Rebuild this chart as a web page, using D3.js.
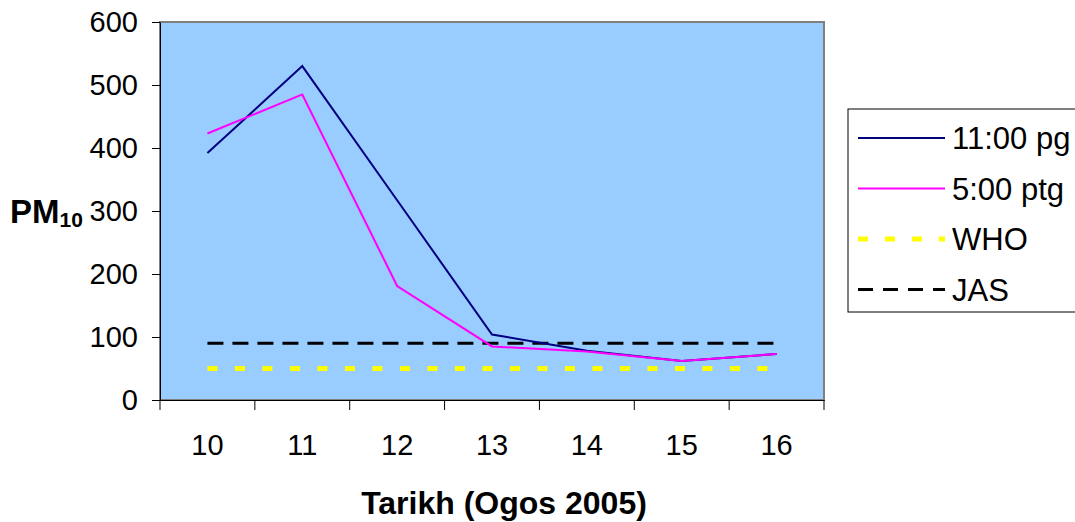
<!DOCTYPE html>
<html><head><meta charset="utf-8">
<script src="https://cdn.jsdelivr.net/npm/d3@7"></script>
<style>body{margin:0;background:#fff;} svg{display:block;} text{font-family:"Liberation Sans",Arial,sans-serif;fill:#000;}</style>
</head><body><svg id="c" width="1075" height="522"></svg>
<script>
const categories = ["10","11","12","13","14","15","16"];
const series1 = [392, 530, 317, 104, 78, 62, 73];   // 11:00 pg
const series2 = [423, 485, 181, 85, 77, 62, 73];    // 5:00 ptg
const whoValue = [50, 50, 50, 50, 50, 50, 50];
const jasValue = [90, 90, 90, 90, 90, 90, 90];
const yTicks = [0, 100, 200, 300, 400, 500, 600];
const seriesNames = ["11:00 pg", "5:00 ptg", "WHO", "JAS"];

const svg = d3.select("#c");
const L = 160, R = 824, T = 22, B = 400;
const x = d3.scaleBand().domain(categories).range([L, R]).padding(0);
const y = d3.scaleLinear().domain([0, 600]).range([B, T]);
const cx = d => x(d) + x.bandwidth() / 2;
const FONT = "Liberation Sans, Arial, sans-serif";

svg.append("rect").attr("x", L).attr("y", T).attr("width", R - L).attr("height", B - T)
  .attr("fill", "#99CCFF").attr("stroke", "#808080").attr("stroke-width", 2);

const styles = [
  {color: "#000080", w: 2, dash: null},
  {color: "#FF00FF", w: 2, dash: null},
  {color: "#FFFF00", w: 5, dash: "10,17.5"},
  {color: "#000000", w: 3, dash: "16,9"}
];
const datasets = [series1, series2, whoValue, jasValue];
const line = d3.line().x((d, i) => cx(categories[i])).y(d => y(d));
[2, 3, 0, 1].forEach(k => {
  svg.append("path").datum(datasets[k]).attr("d", line).attr("fill", "none")
    .attr("stroke", styles[k].color).attr("stroke-width", styles[k].w)
    .attr("stroke-dasharray", styles[k].dash).attr("stroke-linejoin", "miter");
});

// axes
const yAxis = d3.axisLeft(y).tickValues(yTicks).tickSize(8).tickSizeOuter(0).tickPadding(14);
const gy = svg.append("g").attr("transform", `translate(${L},0)`).call(yAxis);
gy.select(".domain").attr("stroke", "#000").attr("stroke-width", 1);
gy.selectAll(".tick line").attr("stroke", "#000");
gy.selectAll(".tick text").attr("font-size", 29).attr("font-family", FONT).attr("fill", "#000");

const xAxis = d3.axisBottom(x).tickSize(0).tickPadding(34);
const gx = svg.append("g").attr("transform", `translate(0,${B})`).call(xAxis);
gx.select(".domain").attr("stroke", "#000").attr("stroke-width", 1);
gx.selectAll(".tick text").attr("font-size", 29).attr("font-family", FONT).attr("fill", "#000");
const bounds = categories.map(c => x(c)).concat([R]);
gx.selectAll(".btick").data(bounds).enter().append("line").attr("class", "btick")
  .attr("x1", d => d).attr("x2", d => d).attr("y1", 0).attr("y2", 10).attr("stroke", "#000");

// axis titles
svg.append("text").attr("x", 504).attr("y", 514).attr("text-anchor", "middle")
  .attr("font-size", 32).attr("font-weight", "bold").text("Tarikh (Ogos 2005)");
const yt = svg.append("text").attr("x", 10).attr("y", 223).attr("font-size", 33).attr("font-weight", "bold");
yt.append("tspan").text("PM");
yt.append("tspan").attr("font-size", 21).attr("dy", 4).text("10");

// legend
const lg = svg.append("g");
lg.append("rect").attr("x", 848).attr("y", 109).attr("width", 240).attr("height", 203)
  .attr("fill", "#fff").attr("stroke", "#000").attr("stroke-width", 1);
seriesNames.forEach((n, i) => {
  const yy = 138 + i * 50.5;
  lg.append("line").attr("x1", 858).attr("x2", 945).attr("y1", yy).attr("y2", yy)
    .attr("stroke", styles[i].color).attr("stroke-width", styles[i].w)
    .attr("stroke-dasharray", i === 2 ? "10,17" : (i === 3 ? "15,10" : null));
  lg.append("text").attr("x", 952).attr("y", yy + 11).attr("font-size", 31).text(n);
});
</script></body></html>
